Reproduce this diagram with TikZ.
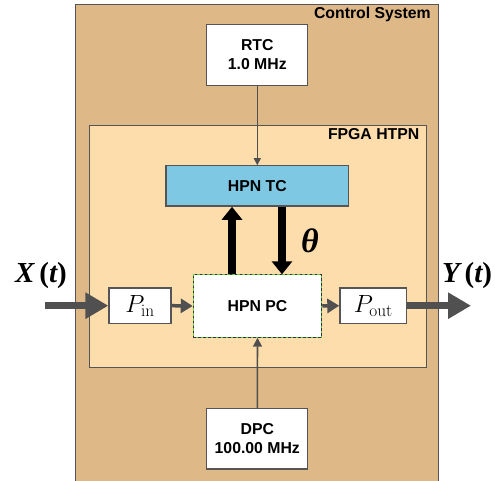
\documentclass[tikz,border=0pt]{standalone}
\usepackage[no-math]{fontspec}
\setmainfont{Liberation Sans}
\newfontfamily\serifb{Liberation Serif}
\usetikzlibrary{arrows.meta}
\definecolor{outerc}{RGB}{222,184,135}
\definecolor{innerc}{RGB}{253,221,171}
\definecolor{tcblue}{RGB}{126,200,228}
\definecolor{edgec}{RGB}{85,85,85}
\definecolor{arrc}{RGB}{80,80,80}
\definecolor{dgreen}{RGB}{100,200,60}
\tikzset{
  lbl/.style={font=\bfseries\fontsize{15.8}{19}\selectfont, align=center, inner sep=0pt},
  box/.style={draw=edgec, line width=1.3pt, fill=white, lbl},
  area/.style={draw=edgec, line width=1pt, inner sep=0pt},
  thinarr/.style={draw=arrc, line width=1.2pt, -{Triangle[length=7pt,width=7pt]}},
  midarr/.style={draw=arrc, line width=3.5pt, -{Triangle[length=12pt,width=14pt]}},
  bigarr/.style={draw=arrc, line width=6.5pt, -{Triangle[length=23pt,width=25pt]}},
  blkarr/.style={draw=black, line width=8pt, -{Triangle[length=13pt,width=20pt]}},
  mathlbl/.style={inner sep=0pt, font=\serifb\bfseries\fontsize{29}{32}\selectfont}
}
\begin{document}
\begin{tikzpicture}[x=1pt,y=-1pt]
\useasboundingbox (0,0) rectangle (495,481);
\node[area, fill=outerc, minimum width=363pt, minimum height=479pt] (cs) at (256.5,243.6) {};
\node[lbl, anchor=base east] (cslbl) at (431,18.3) {Control System};
\node[area, fill=innerc, minimum width=337pt, minimum height=242pt] (fpga) at (257.5,246.7) {};
\node[lbl, anchor=base east] (fpgalbl) at (419.5,139.3) {FPGA HTPN};

\node[box, minimum width=101pt, minimum height=61pt] (rtc) at (257.3,54.8) {RTC\\1.0 MHz};
\node[box, fill=tcblue, minimum width=182.7pt, minimum height=40.3pt] (tc) at (257.3,186) {HPN TC};
\node[lbl, fill=white, minimum width=128.4pt, minimum height=62.3pt, draw=dgreen, line width=1.1pt,
      postaction={draw=black!80, dashed, dash pattern=on 2.5pt off 2.5pt, line width=0.9pt}] (pc) at (257.5,306) {HPN PC};
\node[box, minimum width=62pt, minimum height=35.3pt, font=\fontsize{24}{26}\selectfont] (pin) at (140,305.7) {$P_{\mathrm{in}}$};
\node[box, minimum width=66.7pt, minimum height=35.3pt, font=\fontsize{24}{26}\selectfont] (pout) at (373.3,305.7) {$P_{\mathrm{out}}$};
\node[box, minimum width=101pt, minimum height=60.3pt] (dpc) at (257.3,438.8) {DPC\\100.00 MHz};

\coordinate (xin) at (45,305.7);
\coordinate (yout) at (471,305.7);
\coordinate (ua) at (232,0);
\coordinate (da) at (282,0);

\draw[thinarr] (rtc.south) -- (tc.north);
\draw[thinarr, line width=1.6pt, -{Triangle[length=9pt,width=9pt]}] (dpc.north) -- (pc.south);
\draw[blkarr] (ua |- pc.north) -- (ua |- tc.south);
\draw[blkarr] (da |- tc.south) -- (da |- pc.north);
\draw[bigarr] (xin) -- (pin.west);
\draw[bigarr] (pout.east) -- (yout);
\draw[midarr] (pin.east) -- (pc.west);
\draw[midarr] (pc.east) -- (pout.west);

\node[mathlbl] (xl) at (41,276) {\itshape X\,\upshape(\itshape t\upshape)};
\node[mathlbl] (yl) at (467,276) {\itshape Y\,\upshape(\itshape t\upshape)};
\node[inner sep=0pt, font=\serifb\bfseries\itshape\fontsize{34}{36}\selectfont] (th) at (310,241) {θ};
\end{tikzpicture}
\end{document}
